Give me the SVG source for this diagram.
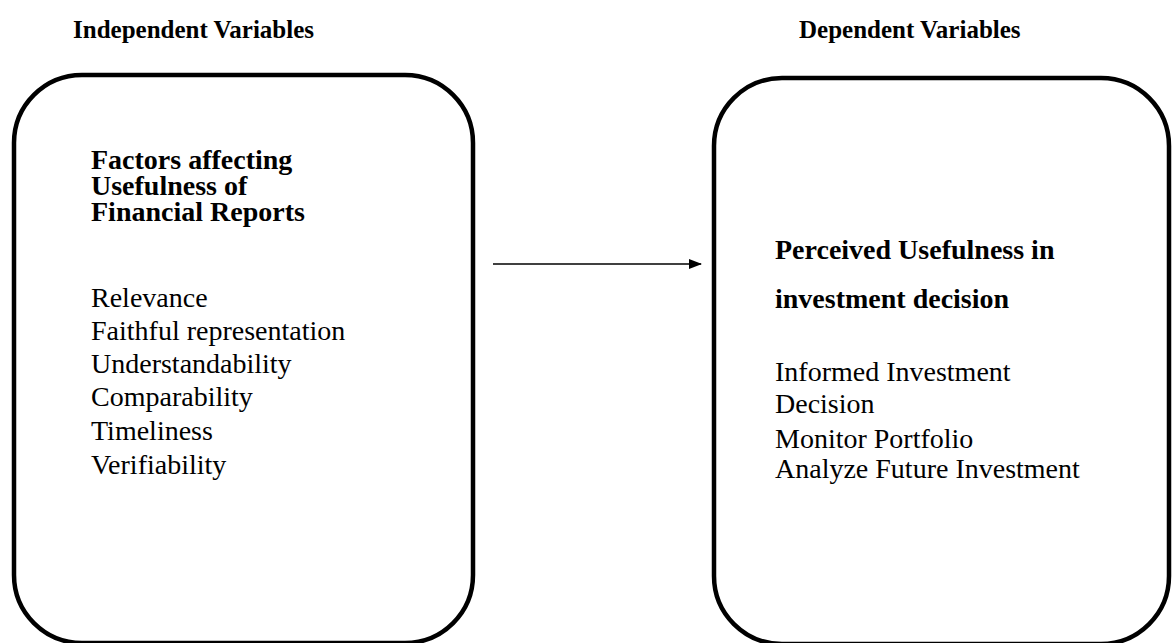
<svg xmlns="http://www.w3.org/2000/svg" width="1173" height="643" viewBox="0 0 1173 643">
<defs>
<style>
.box{fill:none;stroke:#000;stroke-width:4.5}
.t{font-family:"Liberation Serif","Times New Roman",serif;fill:#000}
.b{font-weight:bold}
.h{font-size:25px;font-weight:bold}
.s{font-size:28px}
.conn{stroke:#000;stroke-width:1.5;fill:none}
</style>
<marker id="ah" markerWidth="13" markerHeight="10" refX="12" refY="5" orient="auto" markerUnits="userSpaceOnUse">
<path d="M0,0 L13,5 L0,10 z" fill="#000"/>
</marker>
</defs>
<rect width="1173" height="643" fill="#fff"/>
<text class="t h" x="73" y="38">Independent Variables</text>
<text class="t h" x="799" y="38">Dependent Variables</text>
<g id="node-independent">
<rect class="box" x="14" y="75" width="459" height="568" rx="68" ry="68"/>
<text class="t s b" x="91" y="169">Factors affecting</text>
<text class="t s b" x="91" y="195">Usefulness of</text>
<text class="t s b" x="91" y="221">Financial Reports</text>
<text class="t s" x="91" y="307">Relevance</text>
<text class="t s" x="91" y="340">Faithful representation</text>
<text class="t s" x="91" y="373">Understandability</text>
<text class="t s" x="91" y="406">Comparability</text>
<text class="t s" x="91" y="440">Timeliness</text>
<text class="t s" x="91" y="474">Verifiability</text>
</g>
<g id="node-dependent">
<rect class="box" x="714" y="78" width="455" height="566" rx="68" ry="68"/>
<text class="t s b" x="775" y="259">Perceived Usefulness in</text>
<text class="t s b" x="775" y="308">investment decision</text>
<text class="t s" x="775" y="381">Informed Investment</text>
<text class="t s" x="775" y="413">Decision</text>
<text class="t s" x="775" y="448">Monitor Portfolio</text>
<text class="t s" x="775" y="478">Analyze Future Investment</text>
</g>
<g id="connectors">
<line class="conn" x1="493" y1="264" x2="701" y2="264" marker-end="url(#ah)"/>
</g>
</svg>
